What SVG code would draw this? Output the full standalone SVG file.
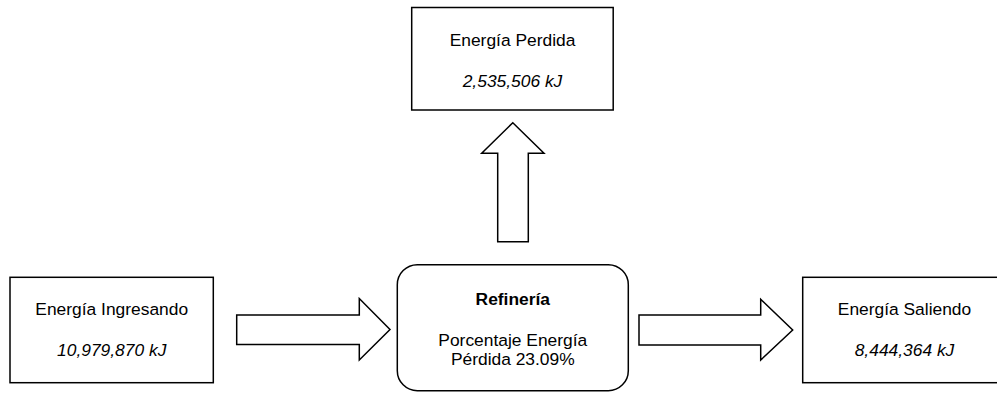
<svg xmlns="http://www.w3.org/2000/svg" width="997" height="394" viewBox="0 0 997 394">
  <style>
    .box { fill: #ffffff; stroke: #000000; stroke-width: 1.5; }
    .flow { fill: #ffffff; stroke: #000000; stroke-width: 1.5; stroke-linejoin: miter; }
    text { font-family: "Liberation Sans", Arial, sans-serif; font-size: 17.4px; fill: #000000; text-anchor: middle; }
    .val { font-style: italic; }
    .title { font-weight: bold; }
  </style>
  <rect width="997" height="394" fill="#ffffff"/>

  <!-- block arrows between the stages -->
  <g id="connectors">
    <path class="flow" d="M236.7,315 L359.3,315 L359.3,298.5 L390,329.5 L359.3,360 L359.3,344.5 L236.7,344.5 Z"/>
    <path class="flow" d="M639,315 L760.7,315 L760.7,299.3 L792.7,330 L760.7,360 L760.7,345 L639,345 Z"/>
    <path class="flow" d="M497.7,241.7 L497.7,153.3 L481.7,153.3 L512.8,122.7 L544,153.3 L528.3,153.3 L528.3,241.7 Z"/>
  </g>

  <g id="energia-perdida">
    <rect class="box" x="411.7" y="7.5" width="201.5" height="102.5"/>
    <text x="512.5" y="46">Energía Perdida</text>
    <text class="val" x="512.5" y="86.7">2,535,506 kJ</text>
  </g>

  <g id="energia-ingresando">
    <rect class="box" x="10" y="277.3" width="203.3" height="105.4"/>
    <text x="111.7" y="314.5">Energía Ingresando</text>
    <text class="val" x="111.7" y="356">10,979,870 kJ</text>
  </g>

  <g id="refineria">
    <rect class="box" x="397.3" y="264.7" width="231" height="126" rx="20" ry="20"/>
    <text class="title" x="512.8" y="305">Refinería</text>
    <text x="512.8" y="346">Porcentaje Energía</text>
    <text x="512.8" y="365">Pérdida 23.09%</text>
  </g>

  <g id="energia-saliendo">
    <rect class="box" x="802.7" y="277.3" width="203.3" height="105.4"/>
    <text x="904.5" y="314.5">Energía Saliendo</text>
    <text class="val" x="904.5" y="356">8,444,364 kJ</text>
  </g>
</svg>
